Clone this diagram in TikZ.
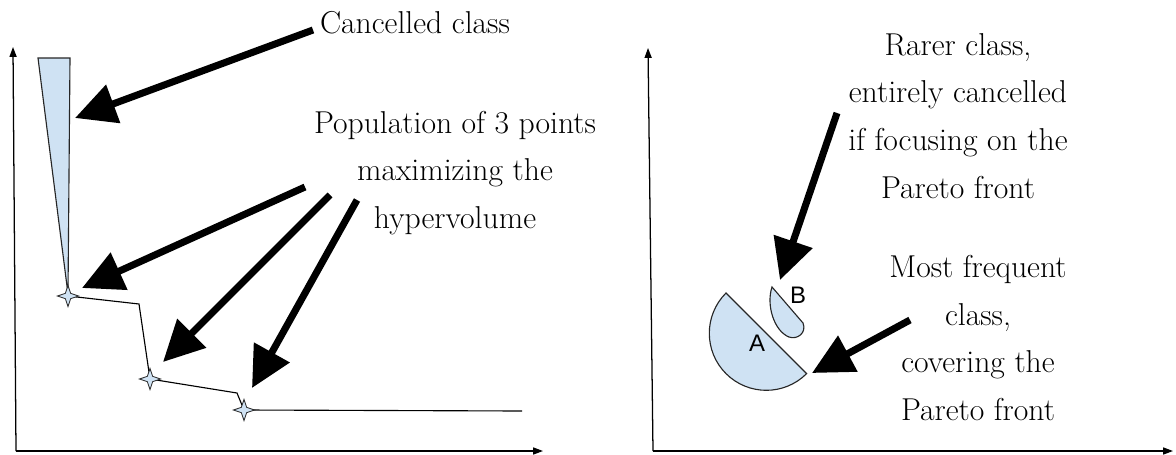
\documentclass[tikz,border=0pt]{standalone}
\usepackage{fontspec}
\newfontfamily\labelfont{Liberation Sans}
\usepackage{xcolor}
\definecolor{classfill}{RGB}{207,226,243}
\usetikzlibrary{arrows.meta,shapes.geometric}

\begin{document}
\begin{tikzpicture}[font=\fontsize{22.5}{34}\selectfont, x=0.025cm, y=-0.025cm, >=Stealth]
\tikzset{axis/.style={line width=0.9pt, -{Triangle[length=7pt,width=5pt]}},
  bigarrow/.style={line width=5pt, -{Triangle[length=29pt,width=28pt]}},
  note/.style={align=center, inner sep=0pt},
  cls/.style={draw=black!85, line width=0.8pt, fill=classfill},
  popstar/.style={star, star points=4, star point ratio=2.8, minimum size=15pt, inner sep=0pt, draw=black!85, fill=classfill, line width=0.6pt},
  lbl/.style={font=\labelfont\fontsize{17}{20}\selectfont}}
\useasboundingbox (0,0) rectangle (1176,454);
% left plot
\draw[axis] (16,451) -- (13,47);
\draw[axis] (16,451) -- (543,451);
\draw[cls] (38,58) -- (70,58) -- (68,294) -- cycle;
\draw[line width=0.8pt] (68,296) -- (139,304) -- (150,379) -- (237,393) -- (244,410) -- (522,411);
\node[popstar] (p1) at (68,296) {};
\node[popstar] (p2) at (150,379) {};
\node[popstar] (p3) at (244,410) {};
\node[note] (cancel) at (415,23) {Cancelled class};
\node[note] (pop) at (455,173) {Population of 3 points\\maximizing the\\hypervolume};
\coordinate (c0) at (313,30);   \coordinate (cc) at (75,118);
\coordinate (t1) at (305,187);  \coordinate (h1) at (82,288);
\coordinate (t2) at (330,195);  \coordinate (h2) at (163,362);
\coordinate (t3) at (357,200);  \coordinate (h3) at (252,388);
\draw[bigarrow] (c0) -- (cc);
\draw[bigarrow] (t1) -- (h1);
\draw[bigarrow] (t2) -- (h2);
\draw[bigarrow] (t3) -- (h3);
% right plot
\draw[axis] (653,451) -- (648,48);
\draw[axis] (653,451) -- (1173,451);
\draw[cls] (726,293) arc[start angle=225, end angle=45, radius=57] -- cycle;
\draw[cls] (772,287) -- (803,323) .. controls (807,333) and (797,340) .. (789,337) .. controls (774,331) and (766,305) .. (772,287) -- cycle;
\node[lbl] (a) at (757,343) {A};
\node[lbl] (b) at (798,295) {B};
\node[note] (rare) at (958,116) {Rarer class,\\entirely cancelled\\if focusing on the\\Pareto front};
\node[note] (freq) at (978,338) {Most frequent\\class,\\covering the\\Pareto front};
\coordinate (t4) at (837,113);  \coordinate (h4) at (780,280);
\coordinate (t5) at (910,320);  \coordinate (h5) at (812,373);
\draw[bigarrow] (t4) -- (h4);
\draw[bigarrow] (t5) -- (h5);
\end{tikzpicture}
\end{document}
